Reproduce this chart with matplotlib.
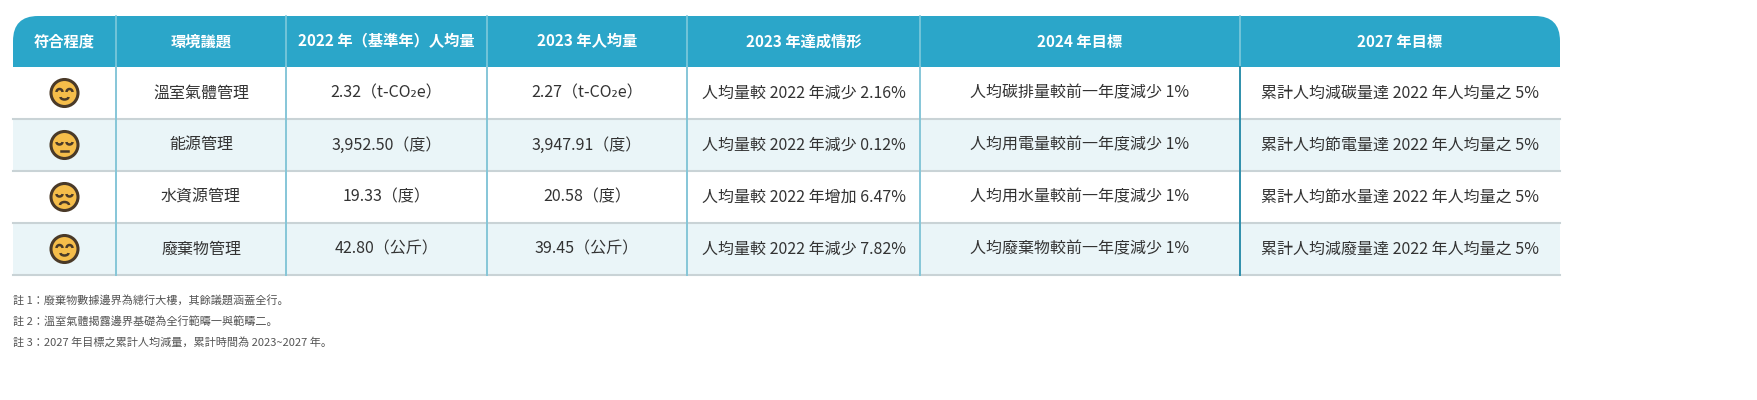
import matplotlib
matplotlib.use("Agg")
import matplotlib.pyplot as plt
from matplotlib import font_manager as fm
from matplotlib.patches import FancyBboxPatch, Rectangle, Circle, Arc

cjk = sorted({f.name for f in fm.fontManager.ttflist if "CJK" in f.name})
pref = [n for n in ["Noto Sans CJK TC", "Noto Sans CJK JP", "Noto Sans CJK SC"] if n in cjk] or cjk
plt.rcParams["font.family"] = pref[:1] + ["DejaVu Sans"]

headers = ["符合程度", "環境議題", "2022 年（基準年）人均量", "2023 年人均量",
           "2023 年達成情形", "2024 年目標", "2027 年目標"]
moods = ["happy", "neutral", "sad", "happy"]
issues = ["溫室氣體管理", "能源管理", "水資源管理", "廢棄物管理"]
units = ["（t-CO₂e）", "（度）", "（度）", "（公斤）"]
base2022 = [2.32, 3952.50, 19.33, 42.80]
val2023 = [2.27, 3947.91, 20.58, 39.45]
change_pct = [-2.16, -0.12, 6.47, -7.82]
target2024 = ["人均碳排量較前一年度減少 1%", "人均用電量較前一年度減少 1%",
              "人均用水量較前一年度減少 1%", "人均廢棄物較前一年度減少 1%"]
target2027 = ["累計人均減碳量達 2022 年人均量之 5%", "累計人均節電量達 2022 年人均量之 5%",
              "累計人均節水量達 2022 年人均量之 5%", "累計人均減廢量達 2022 年人均量之 5%"]
notes = ["註 1：廢棄物數據邊界為總行大樓，其餘議題涵蓋全行。",
         "註 2：溫室氣體揭露邊界基礎為全行範疇一與範疇二。",
         "註 3：2027 年目標之累計人均減量，累計時間為 2023~2027 年。"]

col_x = [13, 116, 286, 487, 687, 920, 1240, 1560]
top, head_h, row_h = 16, 51, 52

HEAD = "#2ba6c9"
ALT = "#eaf5f8"
VLINE = "#86c6d8"
HLINE = "#c9d3d6"
TXT = "#333333"

fig = plt.figure(figsize=(17.57, 4.0), dpi=100)
ax = fig.add_axes([0, 0, 1, 1])
ax.set_xlim(0, 1757)
ax.set_ylim(400, 0)
ax.axis("off")

L, R = col_x[0], col_x[-1]
ax.add_patch(FancyBboxPatch((L + 25, top + 25), R - L - 50, head_h,
                            boxstyle="round,pad=25", fc=HEAD, ec="none"))
ax.add_patch(Rectangle((L, top + 26), R - L, head_h - 26, fc=HEAD, ec="none"))
for i, h in enumerate(headers):
    ax.text((col_x[i] + col_x[i + 1]) / 2, top + head_h / 2, h, color="white",
            fontsize=11, fontweight="bold", ha="center", va="center")
for x in col_x[1:-1]:
    ax.plot([x, x], [top, top + head_h], color="#7fc9dc", lw=1.2)

def fmt(v):
    return f"{v:,.2f}"

def face(cx, cy, mood):
    ec = "#4a3a28"
    ax.add_patch(Circle((cx, cy), 13.5, fc="#f5bd4a", ec=ec, lw=2.2))
    if mood == "happy":
        ax.add_patch(Arc((cx - 5, cy - 1), 6, 6, theta1=180, theta2=360, color=ec, lw=1.8))
        ax.add_patch(Arc((cx + 5, cy - 1), 6, 6, theta1=180, theta2=360, color=ec, lw=1.8))
        ax.add_patch(Arc((cx, cy + 4), 8, 5, theta1=0, theta2=180, color=ec, lw=1.8))
    elif mood == "neutral":
        ax.add_patch(Arc((cx - 5, cy - 3), 6, 5, theta1=0, theta2=180, color=ec, lw=1.8))
        ax.add_patch(Arc((cx + 5, cy - 3), 6, 5, theta1=0, theta2=180, color=ec, lw=1.8))
        ax.plot([cx - 3.5, cx + 3.5], [cy + 6, cy + 6], color=ec, lw=1.8)
    else:
        ax.add_patch(Arc((cx - 5, cy - 3), 6, 5, theta1=0, theta2=180, color=ec, lw=1.8))
        ax.add_patch(Arc((cx + 5, cy - 3), 6, 5, theta1=0, theta2=180, color=ec, lw=1.8))
        ax.add_patch(Arc((cx, cy + 8), 9, 6, theta1=180, theta2=360, color=ec, lw=1.8))

for r in range(len(issues)):
    y0 = top + head_h + r * row_h
    ax.add_patch(Rectangle((L, y0), R - L, row_h, fc=ALT if r % 2 else "white", ec="none"))
    ax.plot([L, R], [y0 + row_h, y0 + row_h], color=HLINE, lw=1.5)
    cy = y0 + row_h / 2
    c = change_pct[r]
    ach = f"人均量較 2022 年{'減少' if c < 0 else '增加'} {abs(c):.2f}%"
    cells = [None, issues[r], fmt(base2022[r]) + units[r], fmt(val2023[r]) + units[r],
             ach, target2024[r], target2027[r]]
    face((col_x[0] + col_x[1]) / 2, cy, moods[r])
    for i, t in enumerate(cells):
        if t is None:
            continue
        ax.text((col_x[i] + col_x[i + 1]) / 2, cy, t, color=TXT, fontsize=11.5,
                ha="center", va="center")

ybot = top + head_h + len(issues) * row_h
for x in col_x[1:-1]:
    ax.plot([x, x], [top + head_h, ybot], color="#2f8fab" if x == 1240 else VLINE, lw=1.4)

for k, n in enumerate(notes):
    ax.text(13, 300 + k * 21, n, color="#555555", fontsize=8, ha="left", va="center")

fig.savefig("out.png", dpi=100, facecolor="white")
